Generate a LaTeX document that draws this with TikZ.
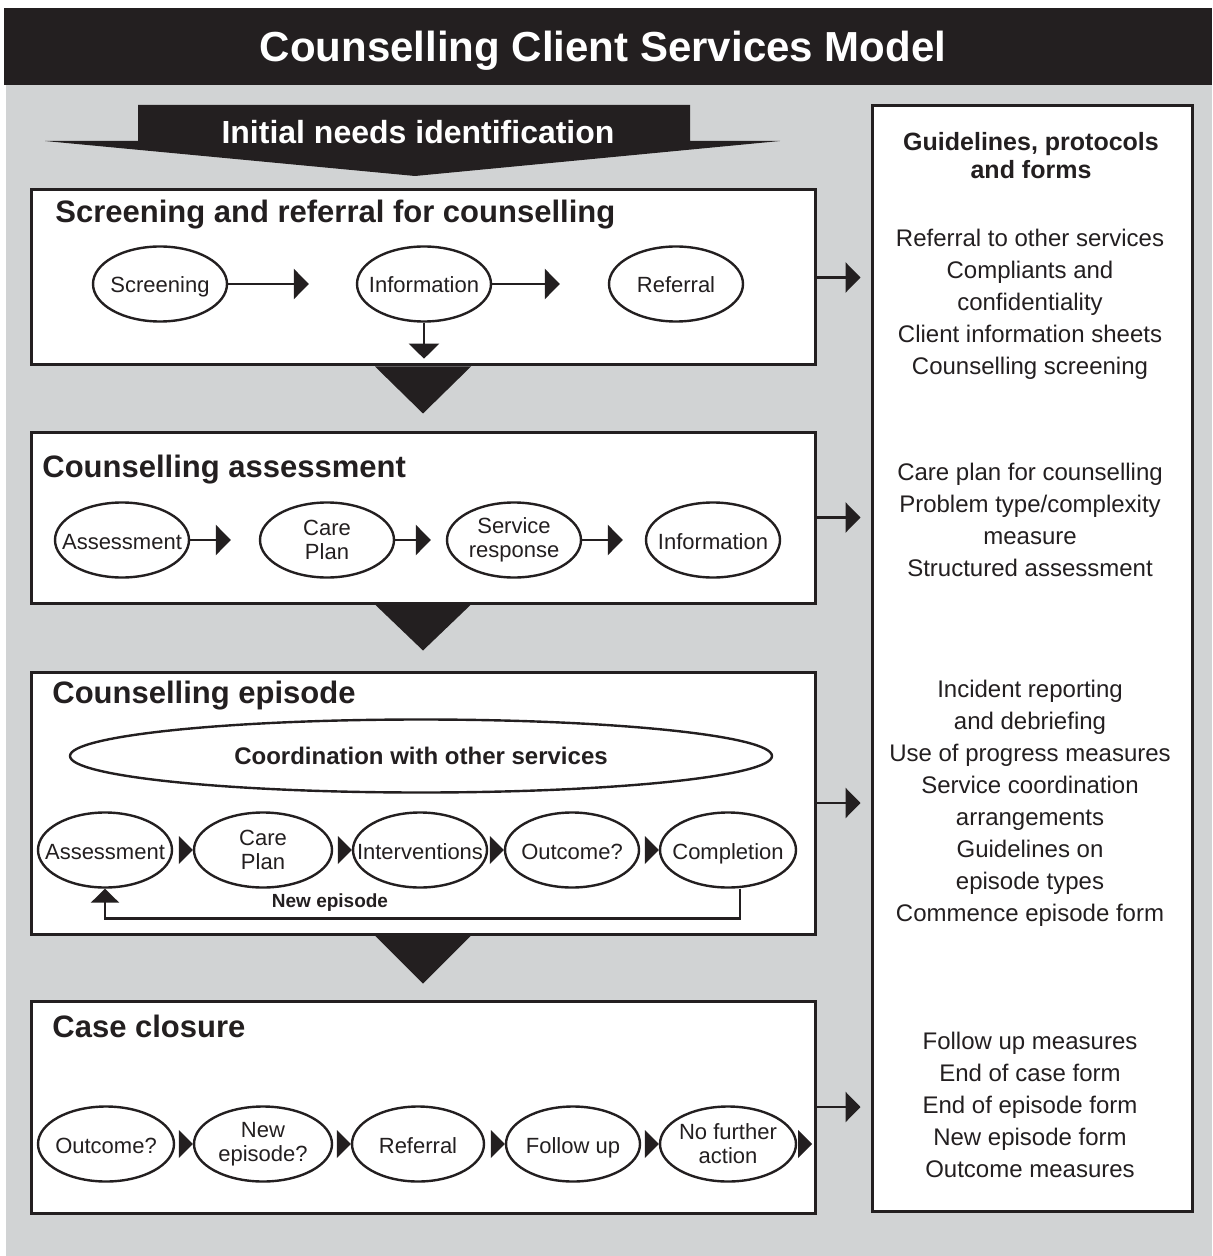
\documentclass[tikz,border=0pt]{standalone}
\usepackage{fontspec}
\setmainfont{Liberation Sans}
\usetikzlibrary{shapes.geometric,arrows.meta,calc}
\definecolor{ink}{HTML}{231F20}
\definecolor{backgrey}{HTML}{D1D3D4}
% small filled tip pointing right, tip placed at #1
\newcommand\steptip[1]{\fill[ink] #1 -- ++(-14,-14) -- ++(0,28) -- cycle;}
% large filled tip pointing down, base centred at #1
\newcommand\flowdown[2]{\fill[ink] ($#1+(-48,0)$) -- ($#1+(48,0)$) -- ($#1+(0,#2)$) -- cycle;}
\begin{document}
\begin{tikzpicture}[x=0.5pt,y=-0.5pt,
  stage/.style={draw=ink, line width=1.5pt, fill=white, rectangle, minimum width=392pt, inner sep=0pt},
  proc/.style={ellipse, draw=ink, line width=1.2pt, fill=white, minimum width=67pt, minimum height=37.5pt, inner sep=0pt},
  ptext/.style={text=ink, align=center, inner sep=0pt, font=\fontsize{11pt}{12pt}\selectfont},
  ptextone/.style={ptext, text height=10.5pt, text depth=1.5pt},
  stagetitle/.style={anchor=base west, text=ink, inner sep=0pt, font=\bfseries\fontsize{15.5pt}{18pt}\selectfont},
  arr/.style={draw=ink, line width=1.25pt, -{Triangle[length=7.5pt,width=15pt]}},
  link/.style={draw=ink, line width=1.25pt},
  paneltext/.style={text=ink, align=center, font=\fontsize{12pt}{16pt}\selectfont},
]
\useasboundingbox (0,0) rectangle (1212,1256);
\fill[white] (0,0) rectangle (1212,1256);
\fill[backgrey] (6,85) rectangle (1212,1256);

% title band
\fill[ink] (4,8) rectangle (1212,85);
\node[anchor=base, text=white, inner sep=0pt, font=\bfseries\fontsize{21pt}{24pt}\selectfont] (title) at (603,62) {Counselling Client Services Model};

% entry arrow
\fill[ink] (138,105) -- (690,105) -- (690,141) -- (780,141) -- (415,176) -- (45,141) -- (138,141) -- cycle;
\node[anchor=base, text=white, inner sep=0pt, font=\bfseries\fontsize{16pt}{18pt}\selectfont] (entry) at (418,144) {Initial needs identification};

% guidelines panel
\node[draw=ink, line width=1.5pt, fill=white, rectangle, minimum width=160pt, minimum height=552.5pt, inner sep=0pt] (pan) at (1032,658.5) {};
\node[text=ink, align=center, font=\bfseries\fontsize{12.5pt}{14pt}\selectfont] (panhead) at (1031,156) {Guidelines, protocols\\and forms};
\node[paneltext] (g1) at (1030,304) {Referral to other services\\Compliants and\\confidentiality\\Client information sheets\\Counselling screening};
\node[paneltext] (g2) at (1030,519.5) {Care plan for counselling\\Problem type/complexity\\measure\\Structured assessment};
\node[paneltext] (g3) at (1030,803) {Incident reporting\\and debriefing\\Use of progress measures\\Service coordination\\arrangements\\Guidelines on\\episode types\\Commence episode form};
\node[paneltext] (g4) at (1030,1104.5) {Follow up measures\\End of case form\\End of episode form\\New episode form\\Outcome measures};

% stage boxes
\node[stage, minimum height=87.5pt] (b1) at (423,277.5) {};
\node[stage, minimum height=85.5pt] (b2) at (423,517.5) {};
\node[stage, minimum height=131pt] (b3) at (423,803) {};
\node[stage, minimum height=106pt] (b4) at (423,1107) {};

\node[stagetitle] (t1) at (55,223) {Screening and referral for counselling};
\node[stagetitle] (t2) at (42,477) {Counselling assessment};
\node[stagetitle] (t3) at (52,703) {Counselling episode};
\node[stagetitle] (t4) at (52,1037) {Case closure};

% flow between stages
\flowdown{(b1.south)}{47}
\flowdown{(b2.south)}{46}
\flowdown{(b3.south)}{48}

% stages to guidelines
\foreach \b in {b1,b2,b3,b4}
  \draw[arr, shorten >=5pt] (\b.east) -- (\b.east -| pan.west);

% screening and referral
\node[proc, label={[ptextone]center:Screening}] (scr) at (160,284) {};
\node[proc, label={[ptextone]center:Information}] (inf1) at (424,284) {};
\node[proc, label={[ptextone]center:Referral}] (ref1) at (676,284) {};
\draw[arr, shorten >=23.5pt] (scr) -- (inf1);
\draw[arr, shorten >=24pt] (inf1) -- (ref1);
\draw[arr] (inf1.south) -- ++(0,36);

% assessment
\node[proc, label={[ptextone]center:Assessment}] (ass2) at (122,540) {};
\node[proc, label={[ptext]center:Care\\Plan}] (cp2) at (327,540) {};
\node[proc, label={[ptext]center:Service\\response}] (sr) at (514,540) {};
\node[proc, label={[ptextone]center:Information}] (inf2) at (713,540) {};
\draw[arr, shorten >=14pt] (ass2) -- (cp2);
\draw[arr, shorten >=7.5pt] (cp2) -- (sr);
\draw[arr, shorten >=11pt] (sr) -- (inf2);

% episode
\node[ellipse, draw=ink, line width=1.2pt, fill=white, minimum width=351pt, minimum height=36.5pt, inner sep=0pt,
      text=ink, font=\bfseries\fontsize{12pt}{14pt}\selectfont] (coord) at (421,756) {Coordination with other services};
\node[proc, label={[ptextone]center:Assessment}] (ass3) at (105,850) {};
\node[proc, minimum width=69pt, label={[ptext]center:Care\\Plan}] (cp3) at (263,850) {};
\node[proc, label={[ptextone]center:Interventions}] (int) at (420,850) {};
\node[proc, label={[ptextone]center:Outcome?}] (out3) at (572,850) {};
\node[proc, minimum width=68pt, label={[ptextone]center:Completion}] (comp) at (728,850) {};
\steptip{(cp3.west)}
\steptip{(int.west)}
\steptip{(out3.west)}
\steptip{(comp.west)}
\draw[link, -{Triangle[length=7pt,width=14pt]}] ($(comp.south)+(12,0)$) -- ++(0,30) -| (ass3.south);
\node[text=ink, inner sep=0pt, font=\bfseries\fontsize{9.5pt}{11pt}\selectfont] (newep) at (330,903) {New episode};

% closure
\node[proc, minimum width=68pt, label={[ptextone]center:Outcome?}] (out4) at (106,1144) {};
\node[proc, minimum width=69pt, label={[ptext]center:New\\episode?}] (ne) at (263,1144) {};
\node[proc, minimum width=66pt, label={[ptextone]center:Referral}] (ref4) at (418,1144) {};
\node[proc, label={[ptextone]center:Follow up}] (fu) at (573,1144) {};
\node[proc, minimum width=68pt, label={[ptext]center:No further\\action}] (nfa) at (728,1144) {};
\steptip{(ne.west)}
\steptip{(ref4.west)}
\steptip{(fu.west)}
\steptip{(nfa.west)}
\steptip{($(nfa.east)+(15,0)$)}
\end{tikzpicture}
\end{document}
